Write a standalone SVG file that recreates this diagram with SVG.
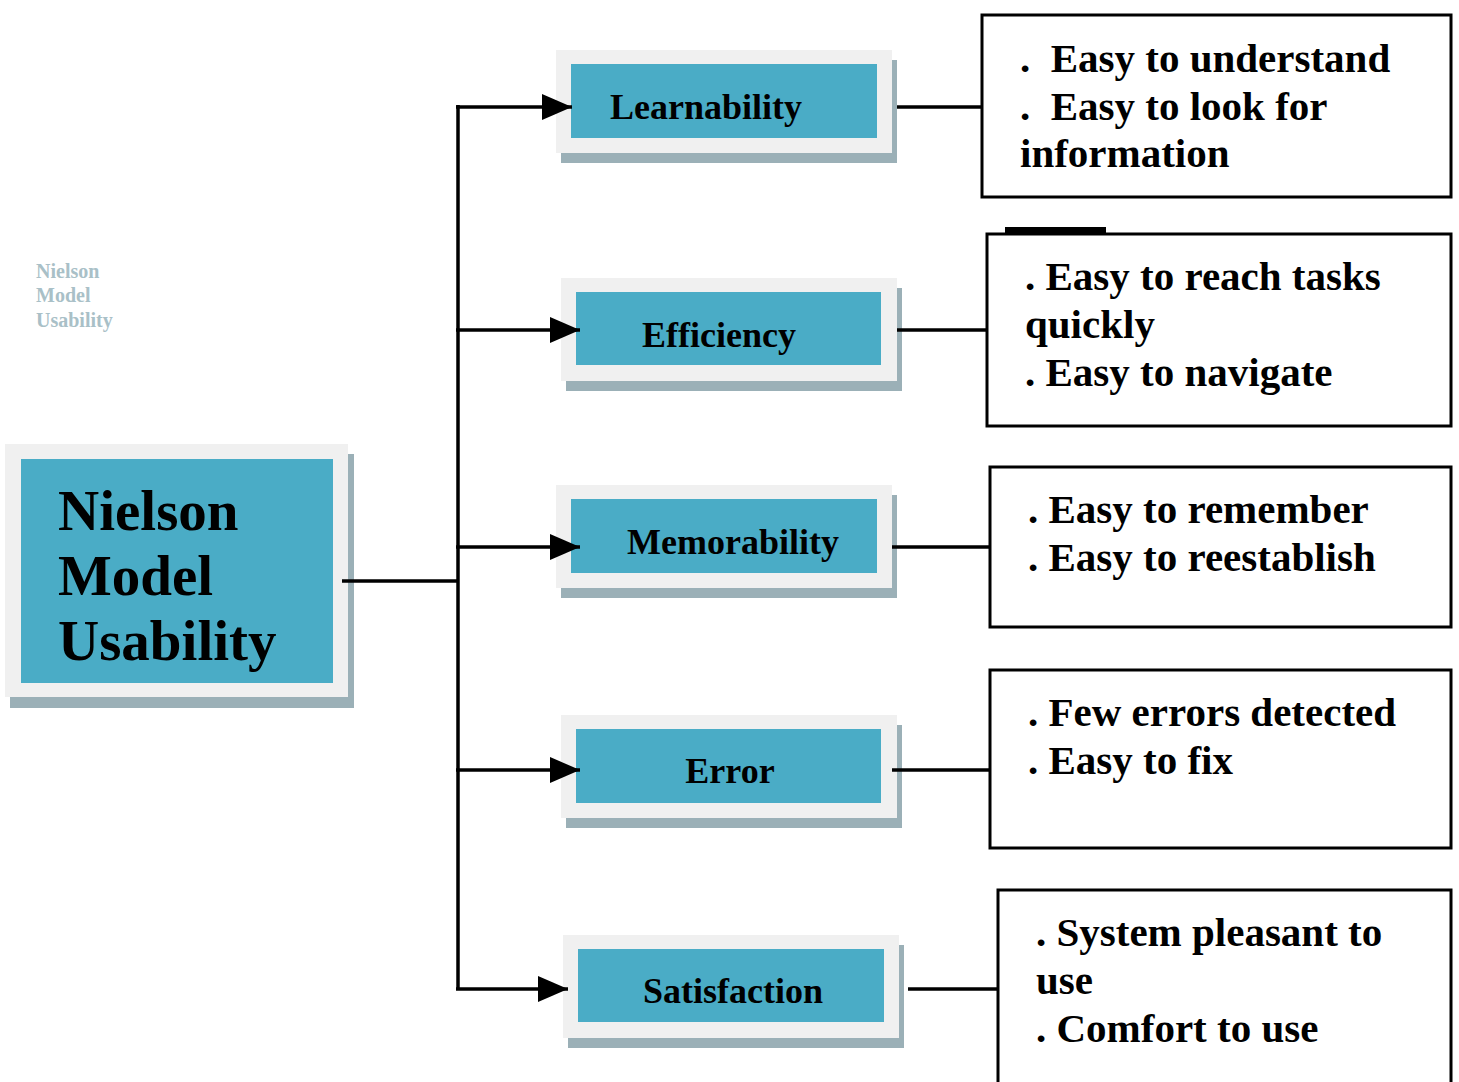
<svg xmlns="http://www.w3.org/2000/svg" width="1459" height="1082" viewBox="0 0 1459 1082">
<defs>
<marker id="arr" markerUnits="userSpaceOnUse" markerWidth="32" markerHeight="28" refX="30" refY="13" orient="auto">
<path d="M0,0 L30,13 L0,26 Z" fill="#000"/>
</marker>
</defs>
<style>
.shadow{fill:#9bb0b7}
.outer{fill:#f0f0f0}
.inner{fill:#4aacc6}
.lbl{font-family:"Liberation Serif","Times New Roman",serif;font-weight:bold;font-size:36px;fill:#000;text-anchor:middle}
.big{font-family:"Liberation Serif","Times New Roman",serif;font-weight:bold;font-size:57px;fill:#000}
.small{font-family:"Liberation Serif","Times New Roman",serif;font-weight:bold;font-size:20px;fill:#a9c0c7}
.box{fill:#fff;stroke:#000;stroke-width:3}
.desc{font-family:"Liberation Serif","Times New Roman",serif;font-weight:bold;font-size:41px;fill:#000;white-space:pre}
.con{fill:none;stroke:#000;stroke-width:3.5}
</style>
<rect width="1459" height="1082" fill="#fff"/>

<g id="caption">
<text class="small" x="36" y="278">Nielson</text>
<text class="small" x="36" y="302">Model</text>
<text class="small" x="36" y="327">Usability</text>
</g>

<g id="main">
<rect class="shadow" x="10" y="454" width="344" height="254"/>
<rect class="outer" x="5" y="444" width="343" height="253"/>
<rect class="inner" x="21" y="459" width="312" height="224"/>
<text class="big" x="58" y="530">Nielson</text>
<text class="big" x="58" y="595">Model</text>
<text class="big" x="58" y="660">Usability</text>
</g>

<g id="learnability">
<rect class="shadow" x="561" y="60" width="336" height="103"/>
<rect class="outer" x="556" y="50" width="336" height="103"/>
<rect class="inner" x="571" y="64" width="306" height="74"/>
<text class="lbl" x="706" y="119">Learnability</text>
</g>

<g id="efficiency">
<rect class="shadow" x="566" y="288" width="336" height="103"/>
<rect class="outer" x="561" y="278" width="336" height="103"/>
<rect class="inner" x="576" y="292" width="305" height="73"/>
<text class="lbl" x="719" y="347">Efficiency</text>
</g>

<g id="memorability">
<rect class="shadow" x="561" y="495" width="336" height="103"/>
<rect class="outer" x="556" y="485" width="336" height="103"/>
<rect class="inner" x="571" y="499" width="306" height="74"/>
<text class="lbl" x="733" y="554">Memorability</text>
</g>

<g id="error">
<rect class="shadow" x="566" y="725" width="336" height="103"/>
<rect class="outer" x="561" y="715" width="336" height="103"/>
<rect class="inner" x="576" y="729" width="305" height="74"/>
<text class="lbl" x="730" y="783">Error</text>
</g>

<g id="satisfaction">
<rect class="shadow" x="568" y="945" width="336" height="103"/>
<rect class="outer" x="563" y="935" width="336" height="103"/>
<rect class="inner" x="578" y="949" width="306" height="73"/>
<text class="lbl" x="733" y="1003">Satisfaction</text>
</g>

<g id="desc-learnability">
<rect class="box" x="982" y="15" width="469" height="182"/>
<text class="desc" x="1020" y="72">.  Easy to understand</text>
<text class="desc" x="1020" y="120">.  Easy to look for</text>
<text class="desc" x="1020" y="167">information</text>
</g>

<g id="desc-efficiency">
<rect x="1005" y="227" width="101" height="7" fill="#000"/>
<rect class="box" x="987" y="234" width="464" height="192"/>
<text class="desc" x="1025" y="290">. Easy to reach tasks</text>
<text class="desc" x="1025" y="338">quickly</text>
<text class="desc" x="1025" y="386">. Easy to navigate</text>
</g>

<g id="desc-memorability">
<rect class="box" x="990" y="467" width="461" height="160"/>
<text class="desc" x="1028" y="523">. Easy to remember</text>
<text class="desc" x="1028" y="571">. Easy to reestablish</text>
</g>

<g id="desc-error">
<rect class="box" x="990" y="670" width="461" height="178"/>
<text class="desc" x="1028" y="726">. Few errors detected</text>
<text class="desc" x="1028" y="774">. Easy to fix</text>
</g>

<g id="desc-satisfaction">
<rect class="box" x="998" y="890" width="453" height="200"/>
<text class="desc" x="1036" y="946">. System pleasant to</text>
<text class="desc" x="1036" y="994">use</text>
<text class="desc" x="1036" y="1042">. Comfort to use</text>
</g>

<g id="connectors">
<line class="con" x1="342" y1="581" x2="458" y2="581"/>
<line class="con" x1="458" y1="105" x2="458" y2="990"/>
<line class="con" x1="456" y1="107" x2="572" y2="107" marker-end="url(#arr)"/>
<line class="con" x1="456" y1="330" x2="580" y2="330" marker-end="url(#arr)"/>
<line class="con" x1="456" y1="547" x2="580" y2="547" marker-end="url(#arr)"/>
<line class="con" x1="456" y1="770" x2="580" y2="770" marker-end="url(#arr)"/>
<line class="con" x1="456" y1="989" x2="568" y2="989" marker-end="url(#arr)"/>
<line class="con" x1="897" y1="107" x2="981" y2="107"/>
<line class="con" x1="897" y1="330" x2="986" y2="330"/>
<line class="con" x1="892" y1="547" x2="990" y2="547"/>
<line class="con" x1="892" y1="770" x2="990" y2="770"/>
<line class="con" x1="908" y1="989" x2="997" y2="989"/>
</g>
</svg>
